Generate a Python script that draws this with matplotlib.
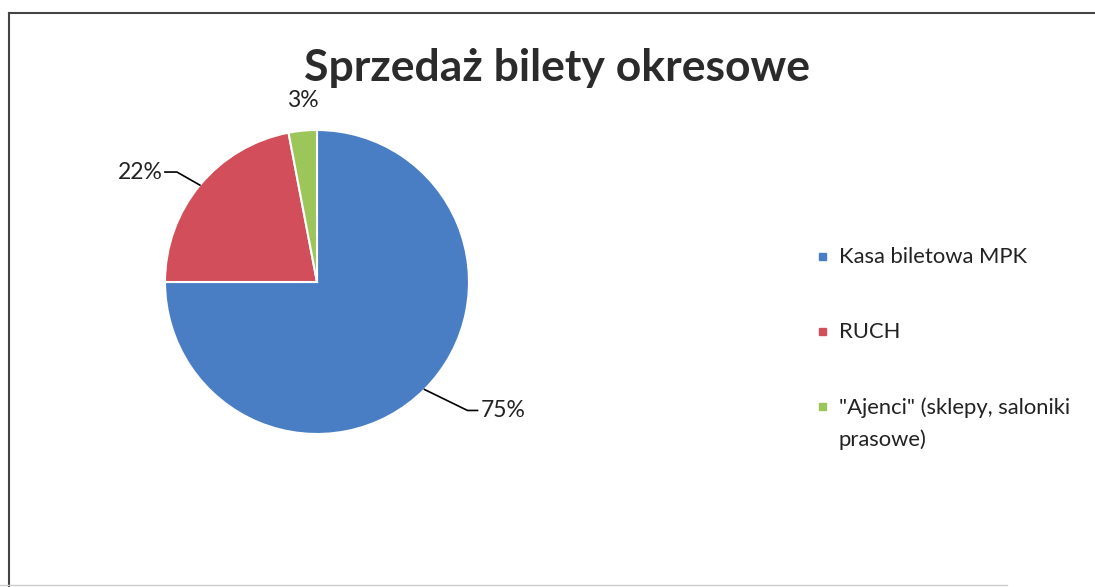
import numpy as np
import matplotlib.pyplot as plt
from matplotlib.lines import Line2D

plt.rcParams['font.family'] = ['Lato', 'DejaVu Sans']

title = 'Sprzedaż bilety okresowe'
labels = ['Kasa biletowa MPK', 'RUCH', '"Ajenci" (sklepy, saloniki\nprasowe)']
shares = [75, 22, 3]
colors = ['#4a7ec4', '#d24e5a', '#9cc55a']

W, H = 1095, 587
fig = plt.figure(figsize=(W / 100, H / 100), dpi=100)

# pie axes: centre (317, 282) px, radius 152 px
cx, cy, R = 317, 282, 152
half = R * 1.3
ax = fig.add_axes([(cx - half) / W, (H - cy - half) / H, 2 * half / W, 2 * half / H])
wedges, _ = ax.pie(shares, colors=colors, startangle=90, counterclock=False,
                   radius=1, wedgeprops=dict(edgecolor='white', linewidth=1.5))
ax.set_xlim(-1.3, 1.3)
ax.set_ylim(-1.3, 1.3)
ax.axis('off')

# percentage labels, leader lines on the two bigger slices
leader = {0: (0.283, -0.138, 0.066), 1: (-0.151, 0.086, -0.079)}
for i, w in enumerate(wedges):
    ang = np.deg2rad((w.theta1 + w.theta2) / 2)
    x0, y0 = np.cos(ang), np.sin(ang)
    txt = f'{shares[i]}%'
    if i in leader:
        dx, dy, hx = leader[i]
        xs = [x0, x0 + dx, x0 + dx + hx]
        ys = [y0, y0 + dy, y0 + dy]
        ax.plot(xs, ys, color='black', lw=1.2, clip_on=False)
        gap = 0.02 if hx > 0 else -0.015
        ax.text(xs[-1] + gap, ys[-1], txt, ha='left' if hx > 0 else 'right',
                va='center', fontsize=16.5, color='#222222')
    else:
        ax.text(1.2 * x0 + 0.02, 1.2 * y0, txt, ha='center', va='center',
                fontsize=16.5, color='#222222')

fig.text(557 / W, 1 - 68 / H, title, ha='center', va='center',
         fontsize=32, fontweight='bold', color='#2b2b2b')

# legend drawn by hand to match placement
ly = [256, 331, 406]
for lab, col, y in zip(labels, colors, ly):
    fig.patches.append(plt.Rectangle((819 / W, 1 - (y + 4) / H), 7 / W, 7 / H,
                                     transform=fig.transFigure, color=col))
    if '\n' in lab:
        fig.text(839 / W, 1 - (y - 9) / H, lab, ha='left', va='top',
                 fontsize=15.8, color='#222222', linespacing=1.72)
    else:
        fig.text(839 / W, 1 - (y + 1) / H, lab, ha='left', va='center',
                 fontsize=15.8, color='#222222')

# chart frame
fig.add_artist(Line2D([9 / W, 1], [1 - 13 / H, 1 - 13 / H], color='#444444', lw=1.5))
fig.add_artist(Line2D([9 / W, 9 / W], [1 - 13 / H, 0], color='#444444', lw=1.5))
fig.add_artist(Line2D([0, 0.92], [2 / H, 2 / H], color='#cccccc', lw=1))

fig.savefig('out.png', dpi=100)
